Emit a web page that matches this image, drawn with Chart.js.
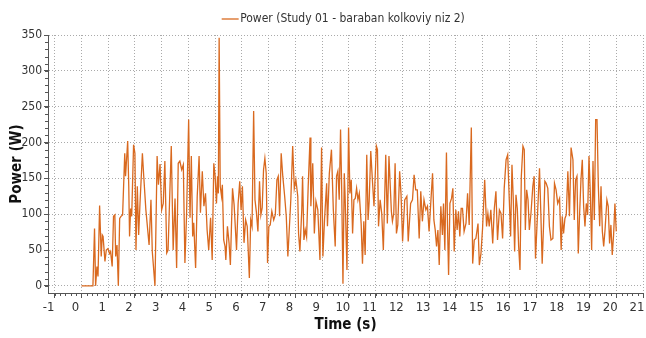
<!DOCTYPE html>
<html>
<head>
<meta charset="utf-8">
<script src="https://cdn.jsdelivr.net/npm/chart.js@4.4.1/dist/chart.umd.min.js"></script>
<style>
  body { margin: 0; background: #fff; }
  #wrap { width: 646px; height: 338px; }
</style>
</head>
<body>
<div id="wrap"><canvas id="powerChart" width="646" height="338"></canvas></div>
<script>
// time (s) and power (W)
const times = [
  0, 0.43, 0.49, 0.53, 0.58, 0.62, 0.68, 0.74, 0.78, 0.81, 0.88, 0.93, 0.99, 1.05, 1.09, 1.15,
  1.20, 1.25, 1.28, 1.33, 1.38, 1.43, 1.48, 1.54, 1.62, 1.65, 1.73, 1.77, 1.80, 1.84, 1.88, 1.95,
  2.00, 2.04, 2.09, 2.14, 2.19, 2.28, 2.33, 2.41, 2.53, 2.60, 2.65, 2.75, 2.83, 2.88, 2.94, 3.00,
  3.06, 3.12, 3.19, 3.24, 3.29, 3.36, 3.43, 3.50, 3.56, 3.62, 3.68, 3.75, 3.81, 3.87, 3.93, 4.01,
  4.06, 4.11, 4.16, 4.20, 4.27, 4.33, 4.40, 4.45, 4.52, 4.58, 4.64, 4.70, 4.76, 4.83, 4.89, 4.95,
  5.00, 5.05, 5.09, 5.12, 5.15, 5.19, 5.24, 5.27, 5.32, 5.37, 5.40, 5.46, 5.52, 5.57, 5.65, 5.71,
  5.80, 5.86, 5.92, 5.97, 6.02, 6.08, 6.14, 6.20, 6.28, 6.33, 6.38, 6.44, 6.49, 6.54, 6.60, 6.66,
  6.71, 6.76, 6.81, 6.86, 6.91, 6.96, 7.01, 7.06, 7.12, 7.19, 7.25, 7.31, 7.36, 7.41, 7.47, 7.53,
  7.60, 7.66, 7.72, 7.83, 7.90, 7.96, 8.02, 8.09, 8.12, 8.17, 8.24, 8.27, 8.32, 8.37, 8.42, 8.48,
  8.55, 8.58, 8.65, 8.71, 8.77, 8.84, 8.92, 8.98, 9.03, 9.09, 9.17, 9.20, 9.27, 9.35, 9.42, 9.49,
  9.54, 9.59, 9.64, 9.69, 9.73, 9.78, 9.83, 9.86, 9.93, 9.99, 10.04, 10.09, 10.14, 10.19, 10.24, 10.29,
  10.34, 10.39, 10.46, 10.51, 10.56, 10.61, 10.67, 10.72, 10.76, 10.82, 10.88, 10.94, 11.03, 11.07, 11.11, 11.17,
  11.23, 11.29, 11.38, 11.44, 11.50, 11.59, 11.63, 11.68, 11.73, 11.78, 11.83, 11.90, 11.95, 12.01, 12.09, 12.17,
  12.22, 12.31, 12.38, 12.44, 12.50, 12.56, 12.63, 12.69, 12.75, 12.81, 12.88, 12.94, 13.00, 13.13, 13.18, 13.23,
  13.28, 13.33, 13.38, 13.44, 13.50, 13.54, 13.59, 13.65, 13.69, 13.73, 13.78, 13.84, 13.89, 13.94, 14.00, 14.05,
  14.10, 14.15, 14.20, 14.25, 14.31, 14.38, 14.44, 14.50, 14.58, 14.63, 14.69, 14.75, 14.83, 14.88, 14.94, 15.00,
  15.08, 15.15, 15.20, 15.25, 15.31, 15.38, 15.44, 15.50, 15.56, 15.63, 15.69, 15.75, 15.81, 15.88, 15.94, 16.00,
  16.05, 16.10, 16.15, 16.20, 16.25, 16.30, 16.35, 16.40, 16.45, 16.51, 16.56, 16.60, 16.65, 16.70, 16.75, 16.81,
  16.88, 16.93, 16.98, 17.08, 17.13, 17.18, 17.23, 17.28, 17.33, 17.38, 17.44, 17.50, 17.56, 17.63, 17.69, 17.75,
  17.81, 17.88, 17.94, 17.98, 18.03, 18.08, 18.13, 18.19, 18.25, 18.31, 18.38, 18.43, 18.48, 18.53, 18.58, 18.63,
  18.68, 18.73, 18.78, 18.83, 18.88, 18.93, 18.98, 19.03, 19.08, 19.13, 19.18, 19.23, 19.28, 19.33, 19.38, 19.43,
  19.48, 19.53, 19.58, 19.65, 19.70, 19.75, 19.80, 19.85, 19.90, 19.95, 20.00
];

const power = [
  0, 0, 80, 0, 27, 13, 112, 41, 71, 69, 34, 50, 52, 45, 48, 27,
  97, 99, 41, 57, 0, 94, 97, 99, 185, 153, 202, 139, 69, 108, 97, 197,
  185, 50, 139, 71, 115, 185, 153, 106, 57, 120, 48, 0, 181, 141, 170, 106,
  115, 174, 46, 50, 111, 195, 50, 122, 25, 171, 174, 162, 169, 32, 97, 232,
  95, 181, 69, 88, 25, 125, 181, 102, 160, 111, 129, 78, 50, 95, 36, 171,
  153, 115, 153, 129, 346, 139, 125, 141, 64, 55, 36, 83, 60, 29, 136, 113,
  50, 115, 146, 106, 139, 60, 92, 83, 11, 92, 83, 244, 120, 104, 76, 146,
  99, 109, 162, 178, 157, 32, 83, 85, 104, 92, 99, 148, 153, 97, 185, 153,
  125, 97, 41, 120, 195, 136, 148, 125, 73, 48, 106, 153, 64, 78, 68, 139,
  207, 111, 171, 73, 118, 106, 36, 193, 41, 92, 143, 83, 157, 190, 106, 55,
  153, 160, 120, 218, 141, 3, 157, 125, 22, 221, 129, 148, 73, 120, 122, 136,
  120, 129, 87, 31, 90, 43, 183, 92, 118, 188, 148, 111, 195, 190, 83, 120,
  101, 50, 183, 87, 181, 104, 90, 101, 171, 73, 85, 160, 129, 62, 120, 125,
  62, 115, 120, 155, 134, 134, 66, 132, 90, 120, 106, 111, 76, 157, 92, 78,
  55, 78, 29, 111, 71, 115, 50, 186, 83, 15, 115, 122, 136, 48, 106, 78,
  104, 69, 108, 108, 76, 87, 129, 85, 221, 31, 64, 66, 87, 29, 45, 80,
  148, 83, 101, 83, 106, 59, 108, 132, 64, 106, 101, 66, 136, 176, 183, 120,
  69, 169, 120, 48, 127, 108, 55, 22, 153, 195, 190, 78, 134, 120, 78, 101,
  139, 153, 38, 120, 164, 101, 31, 83, 146, 143, 136, 83, 64, 66, 143, 134,
  115, 122, 50, 97, 73, 94, 99, 160, 97, 193, 176, 92, 148, 153, 45, 101,
  148, 176, 111, 83, 115, 99, 181, 129, 50, 174, 92, 232, 232, 139, 83, 139,
  76, 55, 78, 120, 111, 59, 85, 43, 71, 115, 76
];

const xTicks = [-1, 0, 1, 2, 3, 4, 5, 6, 7, 8, 9, 10, 11, 12, 13, 14, 15, 16, 17, 18, 19, 20, 21];
const yTicks = [0, 50, 100, 150, 200, 250, 300, 350];

const seriesName = "Power (Study 01 - baraban kolkoviy niz 2)";
const lineColor = "#D9691F";
const font = "'DejaVu Sans Condensed', 'Liberation Sans Narrow', 'DejaVu Sans', sans-serif";

// small minor ticks on both axes
const minorTicks = {
  id: "minorTicks",
  afterDraw(chart) {
    const ctx = chart.ctx;
    const x = chart.scales.x;
    const y = chart.scales.y;
    const area = chart.chartArea;
    ctx.save();
    ctx.strokeStyle = "#555";
    ctx.lineWidth = 1;
    ctx.beginPath();
    for (let v = -1; v <= 21.001; v += 0.2) {
      const px = Math.round(x.getPixelForValue(v)) + 0.5;
      ctx.moveTo(px, area.bottom);
      ctx.lineTo(px, area.bottom + 3);
    }
    for (let v = 0; v <= 350.001; v += 10) {
      const py = Math.round(y.getPixelForValue(v)) + 0.5;
      ctx.moveTo(area.left, py);
      ctx.lineTo(area.left - 3, py);
    }
    ctx.stroke();
    ctx.restore();
  }
};

new Chart(document.getElementById("powerChart"), {
  type: "line",
  data: {
    datasets: [{
      label: seriesName,
      data: times.map((t, i) => ({ x: t, y: power[i] })),
      borderColor: lineColor,
      backgroundColor: lineColor,
      borderWidth: 1.3,
      pointRadius: 0,
      tension: 0,
    }],
  },
  options: {
    responsive: false,
    animation: false,
    layout: { padding: { top: 5, right: 3 } },
    plugins: {
      legend: {
        position: "top",
        fullSize: false,
        labels: {
          usePointStyle: true,
          pointStyle: "line",
          boxWidth: 8,
          padding: 8,
          color: "#333",
          font: { family: font, size: 12 },
        },
      },
      tooltip: { enabled: false },
    },
    scales: {
      x: {
        type: "linear",
        min: -1.25,
        max: 21,
        afterBuildTicks: (s) => { s.ticks = xTicks.map(v => ({ value: v })); },
        afterFit: (s) => { s.height = 45; s.paddingLeft = 0; s.paddingRight = 0; },
        grid: { color: "#aaa", tickColor: "#555", tickLength: 5 },
        border: { color: "#555", dash: [1, 2] },
        ticks: { color: "#333", font: { family: font, size: 13 }, padding: 2, labelOffset: -6, maxRotation: 0 },
        title: { display: true, text: "Time (s)", color: "#111", font: { family: font, size: 15, weight: "bold" }, padding: { top: 0, bottom: 4 } },
      },
      y: {
        min: -10,
        max: 350,
        afterBuildTicks: (s) => { s.ticks = yTicks.map(v => ({ value: v })); },
        afterFit: (s) => { s.width = 48; s.paddingTop = 0; s.paddingBottom = 0; },
        grid: { color: "#aaa", tickColor: "#555", tickLength: 4 },
        border: { color: "#555", dash: [1, 2] },
        ticks: { color: "#333", font: { family: font, size: 12 }, padding: 2 },
        title: { display: true, text: "Power (W)", color: "#111", font: { family: font, size: 15, weight: "bold" }, padding: { top: 8, bottom: 0 } },
      },
    },
  },
  plugins: [minorTicks],
});
</script>
</body>
</html>
